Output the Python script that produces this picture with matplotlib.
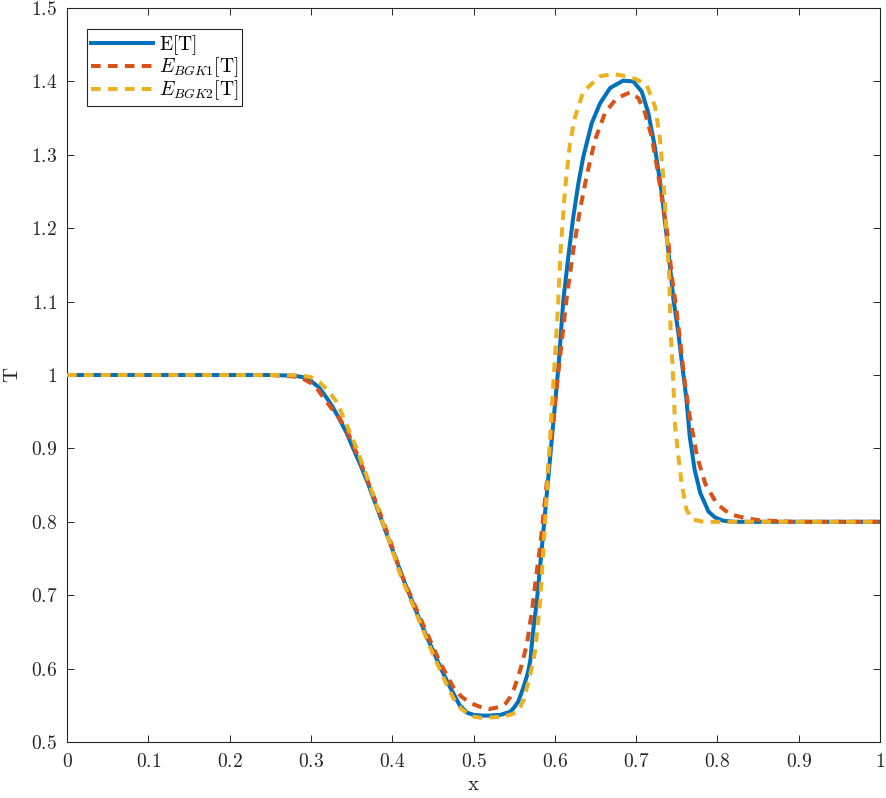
import matplotlib
matplotlib.use("Agg")
import matplotlib.pyplot as plt

plt.rcParams['mathtext.fontset'] = 'cm'
plt.rcParams['font.family'] = ['DejaVu Serif']

# ---- data ----
x_E = [0.0, 0.25, 0.28, 0.29, 0.30, 0.31, 0.32, 0.327, 0.335, 0.344, 0.352, 0.360, 0.370, 0.381,
       0.390, 0.397, 0.405, 0.415, 0.43, 0.44, 0.45, 0.46, 0.471, 0.483, 0.492, 0.50, 0.51, 0.52,
       0.533, 0.545, 0.550, 0.555, 0.560, 0.563, 0.567, 0.570, 0.573, 0.578, 0.583, 0.59, 0.60,
       0.605, 0.6105, 0.6166, 0.6228, 0.629, 0.635, 0.6454, 0.6556, 0.668, 0.684, 0.6966, 0.707,
       0.715, 0.723, 0.7315, 0.7396, 0.7458, 0.752, 0.756, 0.762, 0.766, 0.772, 0.779, 0.789,
       0.797, 0.807, 0.82, 1.0]
y_E = [1.0, 1.0, 0.999, 0.997, 0.992, 0.983, 0.968, 0.956, 0.940, 0.921, 0.900, 0.880, 0.853, 0.820,
       0.793, 0.772, 0.748, 0.718, 0.677, 0.650, 0.625, 0.600, 0.575, 0.550, 0.540, 0.537, 0.536, 0.536,
       0.537, 0.541, 0.547, 0.555, 0.570, 0.580, 0.595, 0.612, 0.648, 0.693, 0.752, 0.836, 0.957,
       1.018, 1.102, 1.161, 1.216, 1.261, 1.297, 1.343, 1.370, 1.391, 1.401, 1.400, 1.386,
       1.357, 1.311, 1.248, 1.170, 1.104, 1.057, 1.020, 0.966, 0.916, 0.871, 0.839, 0.814,
       0.806, 0.8015, 0.800, 0.800]

x_B1 = [0.0, 0.25, 0.28, 0.29, 0.30, 0.307, 0.315, 0.325, 0.333, 0.344, 0.36, 0.381, 0.397, 0.41,
        0.434, 0.459, 0.475, 0.485, 0.496, 0.508, 0.520, 0.533, 0.540, 0.545, 0.550, 0.555, 0.560,
        0.566, 0.572, 0.578, 0.582, 0.59, 0.60, 0.607, 0.6146, 0.6228, 0.631, 0.639, 0.6494, 0.6617,
        0.676, 0.6925, 0.703, 0.711, 0.719, 0.725, 0.7315, 0.739, 0.744, 0.748, 0.754, 0.760, 0.766,
        0.775, 0.785, 0.799, 0.810, 0.820, 0.835, 0.852, 0.875, 0.893, 1.0]
y_B1 = [1.0, 1.0, 0.998, 0.995, 0.989, 0.982, 0.970, 0.955, 0.945, 0.925, 0.884, 0.824, 0.776, 0.732,
        0.670, 0.608, 0.575, 0.562, 0.553, 0.548, 0.545, 0.548, 0.553, 0.561, 0.573, 0.589, 0.608,
        0.635, 0.680, 0.734, 0.766, 0.852, 0.960, 1.030, 1.105, 1.170, 1.225, 1.270, 1.320, 1.357,
        1.377, 1.385, 1.377, 1.357, 1.325, 1.288, 1.243, 1.188, 1.134, 1.102, 1.048, 0.989, 0.943,
        0.889, 0.852, 0.825, 0.815, 0.809, 0.805, 0.802, 0.801, 0.800, 0.800]

x_B2 = [0.0, 0.27, 0.29, 0.30, 0.311, 0.32, 0.332, 0.344, 0.357, 0.37, 0.381, 0.397, 0.41, 0.43,
        0.45, 0.465, 0.475, 0.485, 0.498, 0.51, 0.533, 0.545, 0.552, 0.557, 0.562, 0.567, 0.572,
        0.576, 0.582, 0.587, 0.595, 0.6035, 0.6072, 0.6125, 0.6187, 0.625, 0.635, 0.6556, 0.672,
        0.688, 0.70, 0.713, 0.7232, 0.729, 0.7327, 0.7355, 0.7376, 0.7408, 0.7425, 0.7445, 0.7458,
        0.748, 0.752, 0.756, 0.762, 0.770, 0.783, 1.0]
y_B2 = [1.0, 1.0, 0.999, 0.997, 0.990, 0.980, 0.963, 0.932, 0.898, 0.858, 0.822, 0.772, 0.728, 0.674,
        0.620, 0.583, 0.560, 0.545, 0.535, 0.533, 0.534, 0.537, 0.540, 0.546, 0.558, 0.580, 0.602,
        0.625, 0.693, 0.780, 0.930, 1.084, 1.170, 1.252, 1.316, 1.352, 1.386, 1.407, 1.410,
        1.407, 1.403, 1.395, 1.366, 1.325, 1.279, 1.234, 1.188, 1.134, 1.057, 1.020, 0.989,
        0.930, 0.889, 0.852, 0.816, 0.803, 0.800, 0.800]

x_ticks = [0, 0.1, 0.2, 0.3, 0.4, 0.5, 0.6, 0.7, 0.8, 0.9, 1.0]
x_tick_labels = ['0', '0.1', '0.2', '0.3', '0.4', '0.5', '0.6', '0.7', '0.8', '0.9', '1']
y_ticks = [0.5, 0.6, 0.7, 0.8, 0.9, 1.0, 1.1, 1.2, 1.3, 1.4, 1.5]
y_tick_labels = ['0.5', '0.6', '0.7', '0.8', '0.9', '1', '1.1', '1.2', '1.3', '1.4', '1.5']

labels = [r'$\mathrm{E[T]}$', r'$E_{BGK1}\mathrm{[T]}$', r'$E_{BGK2}\mathrm{[T]}$']

C_BLUE = '#0072BD'
C_RED = '#D95319'
C_YEL = '#EDB120'
AX_COL = '#262626'

fig = plt.figure(figsize=(8.86, 7.98), dpi=100)
ax = fig.add_axes([67/886, 1 - 742/798, (880-67)/886, (742-8)/798])

lw = 2.9
ax.plot(x_E, y_E, color=C_BLUE, lw=lw, label=labels[0], zorder=3)
ax.plot(x_B1, y_B1, color=C_RED, lw=lw, dashes=(2.4, 1.8), label=labels[1], zorder=4)
ax.plot(x_B2, y_B2, color=C_YEL, lw=lw, dashes=(2.4, 1.8), label=labels[2], zorder=5)

ax.set_xlim(0, 1)
ax.set_ylim(0.5, 1.5)
ax.set_xticks(x_ticks)
ax.set_xticklabels(['$' + s + '$' for s in x_tick_labels])
ax.set_yticks(y_ticks)
ax.set_yticklabels(['$' + s + '$' for s in y_tick_labels])
ax.tick_params(direction='in', length=5, width=0.7, top=True, right=True,
               labelsize=14, colors=AX_COL)
ax.tick_params(axis='x', pad=8)
ax.tick_params(axis='y', pad=7)
for sp in ax.spines.values():
    sp.set_color(AX_COL)
    sp.set_linewidth(0.8)

ax.set_xlabel(r'$\mathrm{x}$', fontsize=15, color=AX_COL, labelpad=3)
ax.set_ylabel(r'$\mathrm{T}$', fontsize=15, color=AX_COL, labelpad=6)

leg = ax.legend(loc='upper left', bbox_to_anchor=(0.0246, 0.9714), fontsize=14,
                handlelength=3.2, handletextpad=0.3, labelspacing=-0.05,
                borderpad=0.2, borderaxespad=0.0, fancybox=False, framealpha=1)
leg.get_frame().set_edgecolor(AX_COL)
leg.get_frame().set_linewidth(0.8)

fig.savefig('out.png', dpi=100)
